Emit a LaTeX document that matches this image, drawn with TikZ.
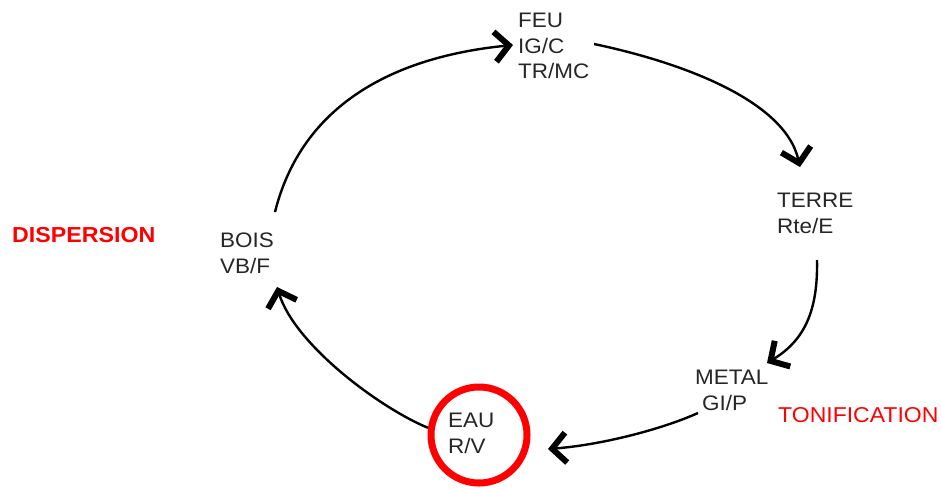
\documentclass[tikz,border=0pt]{standalone}
\usepackage{fontspec}
\setmainfont[FakeStretch=1.07]{Liberation Sans}
\usetikzlibrary{arrows.meta}
\begin{document}
\begin{tikzpicture}[x=1pt,y=-1pt,
  elem/.style={anchor=north west, inner sep=0pt, align=left, text=black!85,
    font=\fontsize{21}{25.5}\selectfont},
  flow/.style={line width=2.4pt,
    -{Straight Barb[length=14pt,width=30pt,line width=6pt,sharp]}},
  mode/.style={anchor=base west, inner sep=0pt, text=red,
    font=\fontsize{21.5}{26}\selectfont}]
\useasboundingbox (0,0) rectangle (941,488);

% the five elements
\node[elem] (feu)   at (518,13)  {FEU\\IG/C\\TR/MC};
\node[elem] (terre) at (777,193) {TERRE\\Rte/E};
\node[elem] (bois)  at (220,233) {BOIS\\VB/F};
\node[elem] (metal) at (695,370) {METAL\\\hspace*{7pt}GI/P};
\node[elem] (eau)   at (448,413) {EAU\\R/V};
\node[circle, draw=red, line width=7pt, minimum size=96pt, inner sep=0pt] (ring) at (479,435) {};

% side labels
\node[mode, font=\bfseries\fontsize{21.7}{26}\selectfont] (disp) at (12,242) {DISPERSION};
\node[mode] (tonif) at (778,422) {TONIFICATION};

% ends of the cycle arrows
\coordinate (b-out) at (275,212);
\coordinate (f-in)  at (513,45);
\coordinate (f-out) at (594,44);
\coordinate (t-in)  at (800,167);
\coordinate (t-out) at (817,260);
\coordinate (m-in)  at (767,363);
\coordinate (m-out) at (698,413);
\coordinate (e-in)  at (548,449);
\coordinate (b-in)  at (277,287);

% generating cycle
\draw[flow] (b-out) .. controls (300,112) and (383,58) .. (f-in);
\draw[flow] (f-out) .. controls (680,62) and (785,100) .. (t-in);
\draw[flow] (t-out) .. controls (818,310) and (805,340) .. (m-in);
\draw[flow] (m-out) .. controls (660,430) and (600,445) .. (e-in);
\draw[flow] (ring.172) .. controls (380,408) and (295,345) .. (b-in);
\end{tikzpicture}
\end{document}
